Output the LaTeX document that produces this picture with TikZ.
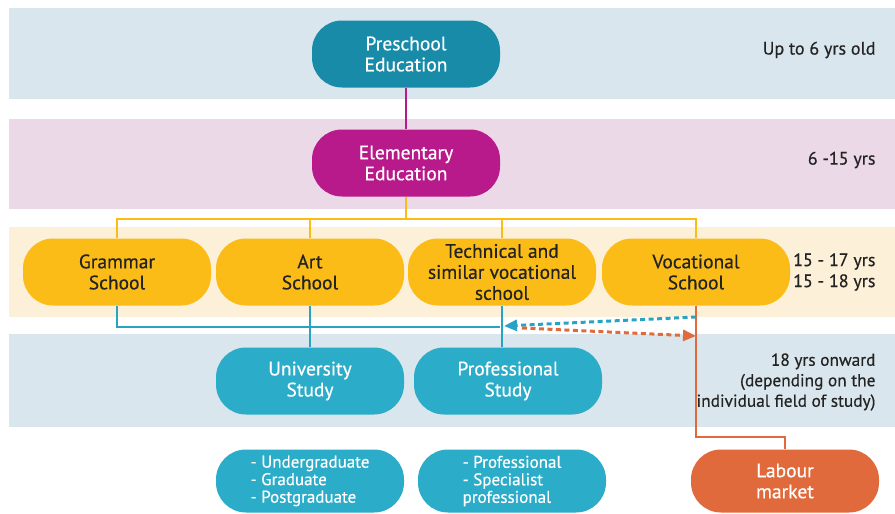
\documentclass[tikz,border=0pt]{standalone}
\usepackage{fontspec}
\setmainfont{PT Sans}
\newfontfamily\medfont[FakeBold=0.5]{PT Sans}
\usetikzlibrary{arrows.meta}
\definecolor{bandblue}{RGB}{217,230,237}
\definecolor{bandpink}{RGB}{235,217,231}
\definecolor{bandcream}{RGB}{253,240,216}
\definecolor{teal}{RGB}{24,139,168}
\definecolor{magenta}{RGB}{184,26,139}
\definecolor{schoolyel}{RGB}{251,188,24}
\definecolor{cyanbox}{RGB}{43,172,200}
\definecolor{linecyan}{RGB}{41,163,196}
\definecolor{orangec}{RGB}{225,106,60}
\definecolor{txt}{RGB}{35,35,35}
\begin{document}
\begin{tikzpicture}[x=1pt,y=-1pt,
  pill/.style={rectangle, rounded corners=30pt, minimum width=188pt, minimum height=67pt,
    inner sep=0pt, align=center, text=white, font=\medfont\fontsize{19.5}{21}\selectfont},
  school/.style={pill, fill=schoolyel, text=txt},
  study/.style={pill, fill=cyanbox},
  sublist/.style={study, minimum height=63pt, align=left, font=\medfont\fontsize{17}{17.5}\selectfont},
  agetext/.style={anchor=east, align=right, text=txt, font=\medfont\fontsize{18}{21}\selectfont},
  magline/.style={draw=magenta, line width=2pt},
  yline/.style={draw=schoolyel, line width=2pt},
  bline/.style={draw=linecyan, line width=2pt},
  oline/.style={draw=orangec, line width=2pt},
  dashline/.style={line width=3pt, dash pattern=on 5pt off 3.5pt}
]
\useasboundingbox (0,0) rectangle (895,514);
\fill[white] (0,0) rectangle (895,514);
% bands
\fill[bandblue] (9,8) rectangle (895,99);
\fill[bandpink] (9,119) rectangle (895,209);
\fill[bandcream] (9,227) rectangle (895,317);
\fill[bandblue] (9,334) rectangle (895,427);

% nodes
\node[pill, fill=teal] (pre) at (406,54) {Preschool\\Education};
\node[pill, fill=magenta] (elem) at (406,163) {Elementary\\Education};
\node[school] (gram) at (117,272) {Grammar\\School};
\node[school] (art) at (310,272) {Art\\School};
\node[school] (tech) at (502,272) {Technical and\\similar vocational\\school};
\node[school] (voc) at (696,272) {Vocational\\School};
\node[study] (uni) at (310,381) {University\\Study};
\node[study] (prof) at (508,381) {Professional\\Study};
\node[sublist] (ug) at (310,481) {- Undergraduate\\- Graduate\\- Postgraduate};
\node[sublist] (ps) at (512,481) {- Professional\\- Specialist\\professional};
\node[pill, fill=orangec, minimum height=63pt] (lab) at (785,481) {Labour\\market};

% age texts
\node[agetext] (a1) at (879,50) {Up to 6 yrs old};
\node[agetext] (a2) at (879,160) {6 -15 yrs};
\node[agetext] (a3) at (879,272) {15 - 17 yrs\\15 - 18 yrs};
\node[agetext, font=\medfont\fontsize{17.3}{20.5}\selectfont] (a4) at (879,382) {18 yrs onward\\(depending on the\\individual field of study)};

% connectors
\coordinate (yj) at (406,219);
\coordinate (bj) at (500,327);
\coordinate (oj) at (785,437);
\draw[magline] (pre) -- (elem);
\draw[yline] (elem.south) -- (yj);
\draw[yline] (gram.north) |- (yj) -| (voc.north);
\draw[yline] (art.north) -- (art.north |- yj);
\draw[yline] (tech.north) -- (tech.north |- yj);
\draw[bline] (gram.south) |- (bj);
\draw[bline] (art.south) -- (uni.north);
\draw[bline] (tech.south) -- (tech.south |- prof.north);
\draw[oline] (voc.south) |- (oj) -- (lab.north);

% dashed arrows
\coordinate (ds1) at (696,317);
\coordinate (de1) at (504,326);
\coordinate (ds2) at (522,328);
\coordinate (de2) at (696,336);
\draw[linecyan, dashline, -{Triangle[length=13pt,width=11pt]}] (ds1) -- (de1);
\draw[orangec, dashline, -{Triangle[length=13pt,width=11pt]}] (ds2) -- (de2);
\end{tikzpicture}
\end{document}
